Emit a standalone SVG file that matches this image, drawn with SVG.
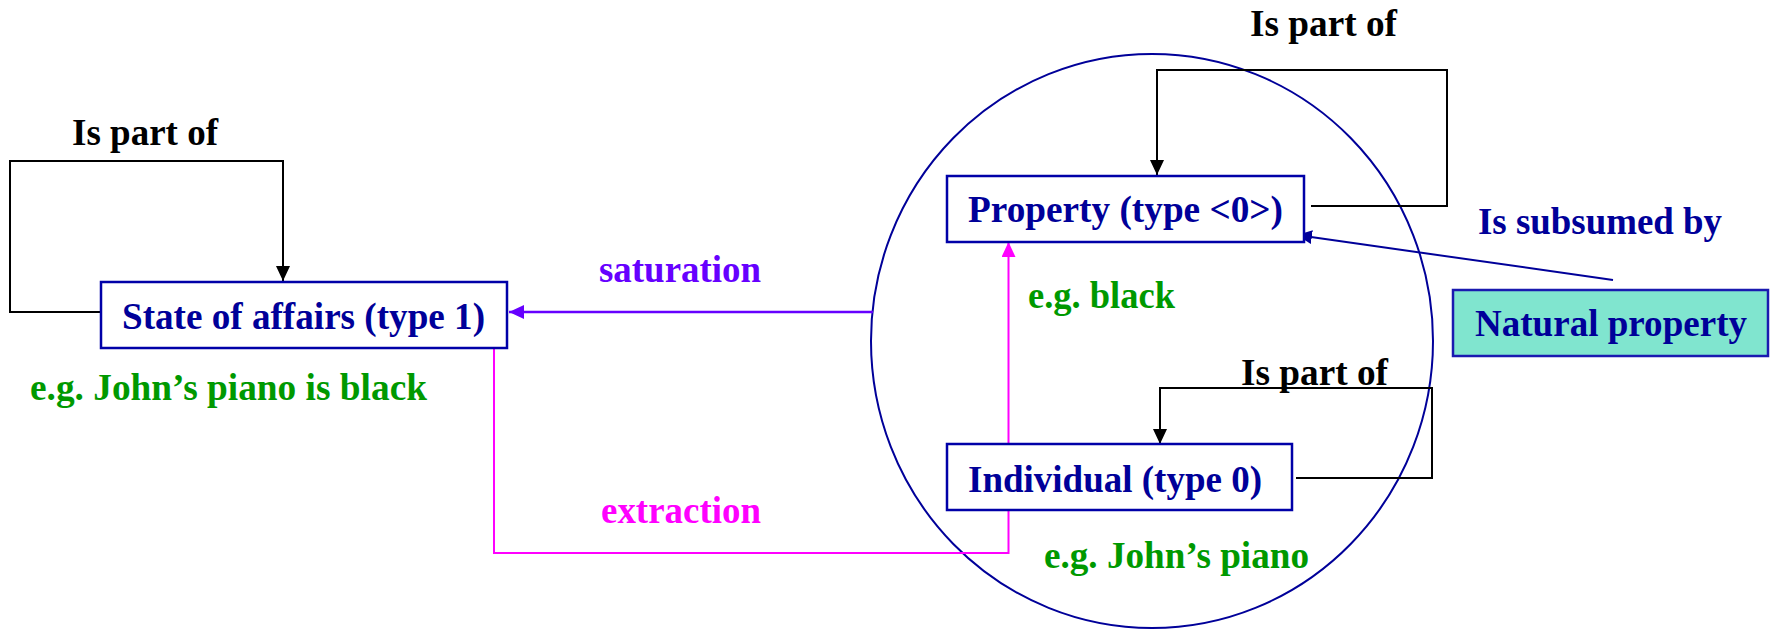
<svg xmlns="http://www.w3.org/2000/svg" width="1772" height="631" viewBox="0 0 1772 631">
<defs>
<style>
text{font-family:"Liberation Serif","Times New Roman",serif;font-weight:bold;font-size:37px}
.blue{fill:#000099}
.green{fill:#009900}
.black{fill:#000000}
.purple{fill:#6600FF}
.magenta{fill:#FF00FF}
.box{fill:#FFFFFF;stroke:#0000A8;stroke-width:2.5}
.loop{fill:none;stroke:#000000;stroke-width:2}
</style>
<marker id="ahBlack" markerUnits="userSpaceOnUse" markerWidth="16" markerHeight="16" refX="15" refY="7" orient="auto"><path d="M0,0 L15,7 L0,14 z" fill="#000000"/></marker>
<marker id="ahPurple" markerUnits="userSpaceOnUse" markerWidth="16" markerHeight="16" refX="15" refY="7" orient="auto"><path d="M0,0 L15,7 L0,14 z" fill="#6600FF"/></marker>
<marker id="ahMagenta" markerUnits="userSpaceOnUse" markerWidth="16" markerHeight="16" refX="15" refY="7" orient="auto"><path d="M0,0 L15,7 L0,14 z" fill="#FF00FF"/></marker>
<marker id="ahNavy" markerUnits="userSpaceOnUse" markerWidth="16" markerHeight="16" refX="15" refY="7" orient="auto"><path d="M0,0 L15,7 L0,14 z" fill="#000099"/></marker>
</defs>
<rect width="1772" height="631" fill="#FFFFFF"/>
<g id="domain-circle">
<ellipse cx="1152" cy="341" rx="281" ry="287" fill="none" stroke="#000099" stroke-width="2"/>
</g>
<g id="connectors">
<path class="loop" d="M101,312 H10 V161 H283 V281" marker-end="url(#ahBlack)"/>
<path class="loop" d="M1311,206 H1447 V70 H1157 V175" marker-end="url(#ahBlack)"/>
<path class="loop" d="M1296,478 H1432 V388 H1160 V444" marker-end="url(#ahBlack)"/>
<path d="M873,312 H509" fill="none" stroke="#6600FF" stroke-width="2.5" marker-end="url(#ahPurple)"/>
<path d="M494,342 V553 H1008.5 V242" fill="none" stroke="#FF00FF" stroke-width="2" marker-end="url(#ahMagenta)"/>
<path d="M1613,280 L1297,235" fill="none" stroke="#000099" stroke-width="2" marker-end="url(#ahNavy)"/>
<text class="black" x="72" y="145" textLength="146" lengthAdjust="spacingAndGlyphs">Is part of</text>
<text class="black" x="1250" y="36" textLength="147" lengthAdjust="spacingAndGlyphs">Is part of</text>
<text class="black" x="1241" y="385" textLength="147" lengthAdjust="spacingAndGlyphs">Is part of</text>
<text class="purple" x="599" y="282" textLength="162" lengthAdjust="spacingAndGlyphs">saturation</text>
<text class="magenta" x="601" y="523" textLength="160" lengthAdjust="spacingAndGlyphs">extraction</text>
<text class="blue" x="1478" y="234" textLength="244" lengthAdjust="spacingAndGlyphs">Is subsumed by</text>
</g>
<g id="state-of-affairs">
<rect class="box" x="101" y="282" width="406" height="66"/>
<text class="blue" x="122" y="329" textLength="363" lengthAdjust="spacingAndGlyphs">State of affairs (type 1)</text>
<text class="green" x="30" y="400" textLength="397" lengthAdjust="spacingAndGlyphs">e.g. John’s piano is black</text>
</g>
<g id="property">
<rect class="box" x="947" y="176" width="357" height="66"/>
<text class="blue" x="968" y="222" textLength="315" lengthAdjust="spacingAndGlyphs">Property (type &lt;0&gt;)</text>
<text class="green" x="1028" y="308" textLength="147" lengthAdjust="spacingAndGlyphs">e.g. black</text>
</g>
<g id="individual">
<rect class="box" x="947" y="444" width="345" height="66"/>
<text class="blue" x="968" y="492" textLength="294" lengthAdjust="spacingAndGlyphs">Individual (type 0)</text>
<text class="green" x="1044" y="568" textLength="265" lengthAdjust="spacingAndGlyphs">e.g. John’s piano</text>
</g>
<g id="natural-property">
<rect x="1453" y="290" width="315" height="66" fill="#80E5CF" stroke="#1A1AB0" stroke-width="2.5"/>
<text class="blue" x="1475" y="336" textLength="272" lengthAdjust="spacingAndGlyphs">Natural property</text>
</g>
</svg>
